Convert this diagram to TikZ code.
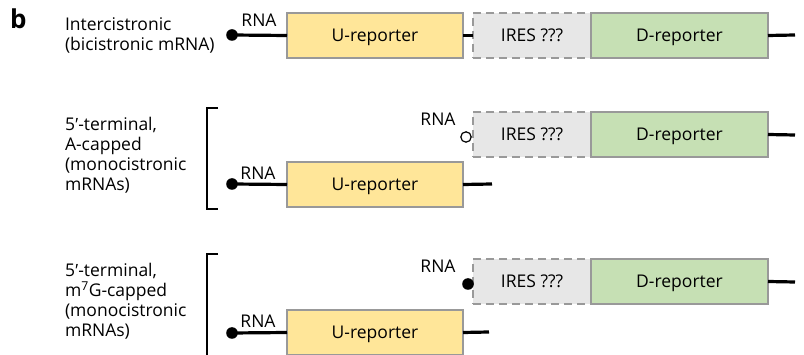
\documentclass[tikz,border=0pt]{standalone}
\usepackage{fontspec}
\setmainfont{Open Sans}
\newfontfamily\primefont{Liberation Sans}
\newcommand{\myprime}{{\primefont ′}}
\definecolor{uyellow}{HTML}{FFE699}
\definecolor{iresgray}{HTML}{E7E7E7}
\definecolor{dgreen}{HTML}{C6E0B4}
\definecolor{boxgray}{HTML}{999999}
\begin{document}
\begin{tikzpicture}[x=1pt,y=-1pt,
  every node/.style={font=\fontsize{17.5}{20}\selectfont, inner sep=0pt, outer sep=0pt},
  boxbase/.style={draw=boxgray, line width=1.3pt, minimum height=45pt, anchor=north west, text height=12.6pt, text depth=0pt},
  ubox/.style={boxbase, fill=uyellow, minimum width=176pt},
  iresbox/.style={boxbase, fill=iresgray, dashed, dash pattern=on 8pt off 5pt, minimum width=118pt},
  dbox/.style={boxbase, fill=dgreen, minimum width=177pt},
  rna/.style={line width=3.2pt},
  capmark/.style={circle, minimum size=12pt},
  bracketline/.style={line width=1.1pt},
  lbl/.style={anchor=base west},
  rnalbl/.style={anchor=base}
]
\useasboundingbox (0,0) rectangle (804,355);

% panel letter
\node[anchor=base west, font=\fontsize{26}{28}\selectfont\bfseries] (b) at (10,29) {b};

% ---------- Row 1 ----------
\node[lbl] (t1a) at (65,31) {Intercistronic};
\node[lbl] (t1b) at (65,51) {(bicistronic mRNA)};
\node[rnalbl] (r1) at (259,27) {RNA};
\node[ubox] (u1) at (287,13) {U-reporter};
\node[iresbox] (i1) at (473,13) {IRES ???};
\node[dbox] (g1) at (591,13) {D-reporter};
\coordinate (e1) at (795,35);
\node[capmark] (d1) at (232,35) {};
\draw[rna] (d1.center) -- (u1.west);
\fill[black] (d1.center) circle[radius=5.8pt];
\draw[rna] (u1.east) -- (i1.west);
\draw[rna] (g1.east) -- (e1);

% ---------- Row 2 ----------
\node[lbl] (t2a) at (65,131) {5\myprime-terminal,};
\node[lbl] (t2b) at (65,151) {A-capped};
\node[lbl] (t2c) at (65,171) {(monocistronic};
\node[lbl] (t2d) at (65,191) {mRNAs)};
\draw[bracketline] (218,108) -- (207,108) -- (207,209) -- (218,209);

\node[rnalbl] (r2t) at (438,126) {RNA};
\node[iresbox] (i2) at (473,112) {IRES ???};
\node[capmark] (o2) at (466,137) {};
\draw[black, line width=1.2pt, fill=white] (o2.center) circle[radius=5.2pt];
\node[dbox] (g2) at (591,112) {D-reporter};
\coordinate (e2) at (795,135);
\draw[rna] (g2.east) -- (e2);

\node[rnalbl] (r2b) at (258,180) {RNA};
\node[ubox] (u2) at (287,162) {U-reporter};
\node[capmark] (d2) at (232,184) {};
\coordinate (f2) at (492,184);
\draw[rna] (d2.center) -- (u2.west);
\fill[black] (d2.center) circle[radius=5.8pt];
\draw[rna] (u2.east) -- (f2);

% ---------- Row 3 ----------
\node[lbl] (t3a) at (65,277) {5\myprime-terminal,};
\node[lbl] (t3b) at (65,297) {m\textsuperscript{7}G-capped};
\node[lbl] (t3c) at (65,317) {(monocistronic};
\node[lbl] (t3d) at (65,337) {mRNAs)};
\draw[bracketline] (218,254) -- (207,254) -- (207,360);

\node[rnalbl] (r3t) at (438,273) {RNA};
\node[iresbox] (i3) at (473,259) {IRES ???};
\node[capmark] (d3t) at (468,284) {};
\fill[black] (d3t.center) circle[radius=5.8pt];
\node[dbox] (g3) at (591,259) {D-reporter};
\coordinate (e3) at (795,282);
\draw[rna] (g3.east) -- (e3);

\node[rnalbl] (r3b) at (258,328) {RNA};
\node[ubox] (u3) at (287,310) {U-reporter};
\node[capmark] (d3) at (232,333) {};
\coordinate (f3) at (489,332);
\draw[rna] (d3.center) -- (u3.west);
\fill[black] (d3.center) circle[radius=5.8pt];
\draw[rna] (u3.east) -- (f3);
\end{tikzpicture}
\end{document}
